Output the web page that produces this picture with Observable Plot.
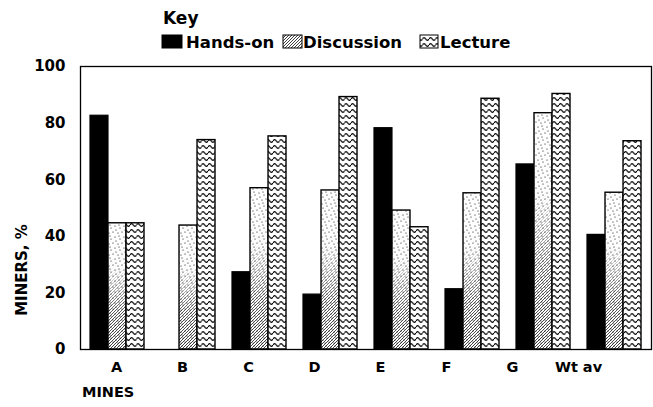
<!DOCTYPE html>
<html><head><meta charset="utf-8">
<script src="https://cdn.jsdelivr.net/npm/d3@7"></script>
<script src="https://cdn.jsdelivr.net/npm/@observablehq/plot@0.6"></script>
<style>
body{margin:0;background:#fff;}
#wrap{position:relative;width:653px;height:407px;}
#wrap svg{position:absolute;left:0;top:0;}
</style></head><body><div id="wrap"></div>
<script>
const mines = ["A","B","C","D","E","F","G","Wt av"];
const handsOn = [82.6, 0, 27.3, 19.4, 78.2, 21.3, 65.4, 40.5];
const discussion = [44.6, 43.8, 57.0, 56.2, 49.1, 55.2, 83.5, 55.4];
const lecture = [44.6, 74.0, 75.3, 89.2, 43.2, 88.6, 90.3, 73.6];
const seriesNames = ["Hands-on","Discussion","Lecture"];
const yTicks = [0,20,40,60,80,100];

const W = 653, H = 407, ML = 80, MR = 2, MT = 66, MB = 58;
const PI = 0.239, PO = 0.14;
const step = (W - ML - MR) / (mines.length - PI + 2 * PO);
const bw = step * (1 - PI);
const third = bw / 3;

const rows = (vals) => mines.map((m, i) => ({mine: m, value: vals[i]}));
const hRows = rows(handsOn), dRows = rows(discussion), lRows = rows(lecture);
const font = "DejaVu Sans";

const chart = Plot.plot({
  width: W, height: H,
  marginLeft: ML, marginRight: MR, marginTop: MT, marginBottom: MB,
  style: {fontFamily: font, fontWeight: "bold", fontSize: "15px", color: "black", background: "white"},
  x: {domain: mines, type: "band", paddingInner: PI, paddingOuter: PO, axis: null},
  y: {domain: [0, 100], axis: null},
  marks: [
    Plot.barY(hRows, {x: "mine", y: "value", fill: "black", stroke: "black", strokeWidth: 1.2, insetLeft: 0, insetRight: 2 * third}),
    Plot.barY(dRows, {x: "mine", y: "value", fill: "url(#hatch)", insetLeft: third, insetRight: third}),
    Plot.barY(dRows, {x: "mine", y: "value", fill: "url(#fade)", insetLeft: third, insetRight: third}),
    Plot.barY(dRows, {x: "mine", y: "value", fill: "url(#dots)", insetLeft: third, insetRight: third}),
    Plot.barY(dRows, {x: "mine", y: "value", fill: "none", stroke: "black", strokeWidth: 1.4, insetLeft: third, insetRight: third}),
    Plot.barY(lRows, {x: "mine", y: "value", fill: "url(#wave)", stroke: "black", strokeWidth: 1.4, insetLeft: 2 * third, insetRight: 0}),
    Plot.frame({stroke: "black", strokeWidth: 1.3}),
    Plot.axisY(yTicks, {tickSize: 0, tickPadding: 15, fontSize: 15, label: null})
  ]
});

const svg = d3.select(chart);
const defs = svg.insert("defs", ":first-child");
const hatch = defs.append("pattern").attr("id", "hatch").attr("patternUnits", "userSpaceOnUse").attr("width", 3).attr("height", 3);
hatch.append("rect").attr("width", 3).attr("height", 3).attr("fill", "white");
hatch.append("path").attr("d", "M-1,1 L1,-1 M0,3 L3,0 M2,4 L4,2").attr("stroke", "black").attr("stroke-width", 0.75);
const wave = defs.append("pattern").attr("id", "wave").attr("patternUnits", "userSpaceOnUse").attr("width", 6.5).attr("height", 6);
wave.append("rect").attr("width", 6.5).attr("height", 6).attr("fill", "white");
wave.append("path").attr("d", "M0,3 Q1.625,0.4 3.25,3 T6.5,3").attr("fill", "none").attr("stroke", "black").attr("stroke-width", 1.3);
const fade = defs.append("linearGradient").attr("id", "fade").attr("x1", 0).attr("y1", 0).attr("x2", 0).attr("y2", 1);
[[0, 1], [0.35, 0.96], [0.7, 0.15], [1, 0]].forEach(([o, a]) =>
  fade.append("stop").attr("offset", o).attr("stop-color", "white").attr("stop-opacity", a));
const dots = defs.append("pattern").attr("id", "dots").attr("patternUnits", "userSpaceOnUse").attr("width", 9).attr("height", 11);
[[1, 2], [5, 1], [7, 6], [3, 8], [2, 5], [8, 10]].forEach(([cx, cy]) =>
  dots.append("circle").attr("cx", cx).attr("cy", cy).attr("r", 0.55).attr("fill", "black"));

// legend
const lg = svg.append("g").attr("font-family", font).attr("font-weight", "bold").attr("fill", "black").attr("text-anchor", "start");
lg.append("text").attr("x", 163).attr("y", 24).attr("font-size", 17).text("Key");
const sw = [
  {x: 162, w: 20, fill: "black", tx: 186},
  {x: 283, w: 19, fill: "url(#hatch)", tx: 303},
  {x: 420, w: 18, fill: "url(#wave)", tx: 440}
];
sw.forEach((s, i) => {
  lg.append("rect").attr("x", s.x).attr("y", 35).attr("width", s.w).attr("height", 13)
    .attr("fill", s.fill).attr("stroke", "black").attr("stroke-width", 1);
  lg.append("text").attr("x", s.tx).attr("y", 48).attr("font-size", 16.5).text(seriesNames[i]);
});
// axis titles
lg.append("text").attr("transform", "translate(27,270) rotate(-90)").attr("text-anchor", "middle").attr("font-size", 15).text("MINERS, %");
lg.append("text").attr("x", 82).attr("y", 397).attr("font-size", 14.5).text("MINES");

document.getElementById("wrap").appendChild(chart);

// category labels (as printed, slightly left of the bar groups)
const labels = Plot.plot({
  width: W, height: 36,
  marginLeft: 114, marginRight: 74, marginTop: 12, marginBottom: 0,
  style: {fontFamily: font, fontWeight: "bold", background: "transparent", color: "black"},
  x: {type: "point", domain: mines, padding: 0, axis: null},
  marks: [Plot.text(mines, {x: d => d, frameAnchor: "top", lineAnchor: "top", fontSize: 14.5, fill: "black"})]
});
labels.style.top = "349px";
document.getElementById("wrap").appendChild(labels);
</script></body></html>
